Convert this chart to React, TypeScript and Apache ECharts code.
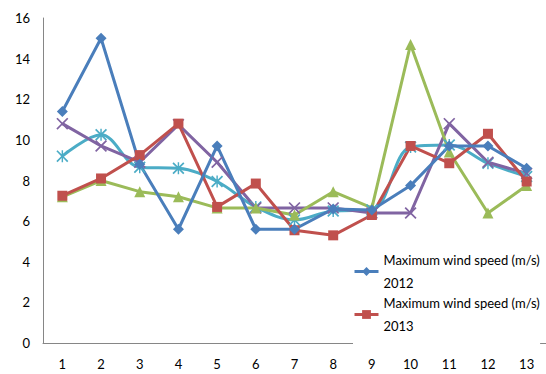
import React, { useEffect, useRef } from "react";
import * as echarts from "echarts";

// Month index along the x axis
const categories = ["1", "2", "3", "4", "5", "6", "7", "8", "9", "10", "11", "12", "13"];

const speed2012 = [11.4, 15.0, 8.8, 5.6, 9.7, 5.6, 5.6, 6.6, 6.55, 7.75, 9.7, 9.7, 8.6];
const speed2013 = [7.25, 8.1, 9.25, 10.8, 6.7, 7.85, 5.55, 5.3, 6.3, 9.7, 8.85, 10.3, 7.95];
const seriesGreen = [7.2, 8.0, 7.45, 7.2, 6.65, 6.65, 6.3, 7.45, 6.65, 14.7, 9.4, 6.4, 7.75];
const seriesPurple = [10.8, 9.7, 8.9, 10.75, 8.9, 6.65, 6.65, 6.65, 6.4, 6.4, 10.8, 8.9, 8.35];
const seriesCyan = [9.2, 10.25, 8.65, 8.6, 7.95, 6.7, 6.06, 6.5, 6.55, 9.65, 9.75, 8.85, 8.2];

const yTicks = { min: 0, max: 16, interval: 2 };

const name2012 = "Maximum wind speed (m/s)\n2012";
const name2013 = "Maximum wind speed (m/s)\n2013";

// Filled outlines for the cross and asterisk markers
const crossPath =
  "path://M0,1 L1,0 L5,4 L9,0 L10,1 L6,5 L10,9 L9,10 L5,6 L1,10 L0,9 L4,5 Z";
const starPath =
  "path://M0,1 L1,0 L5,4 L9,0 L10,1 L6,5 L10,9 L9,10 L5,6 L1,10 L0,9 L4,5 Z M4.4,0 L5.6,0 L5.6,10 L4.4,10 Z";

const FONT = "Lato, 'Open Sans', sans-serif";

export default function App() {
  const ref = useRef<HTMLDivElement>(null);

  useEffect(() => {
    if (!ref.current) return;
    const chart = echarts.init(ref.current, undefined, { renderer: "svg" });

    const lineSeries = (
      name: string,
      data: number[],
      color: string,
      symbol: string,
      symbolSize: number,
      extra: Record<string, unknown> = {}
    ) => ({
      name,
      type: "line",
      data,
      symbol,
      symbolSize,
      showAllSymbol: true,
      lineStyle: { color, width: 3 },
      itemStyle: { color },
      emphasis: { disabled: true },
      z: 2,
      ...extra,
    });

    const legendText = {
      fontFamily: FONT,
      fontSize: 13,
      color: "#000",
      lineHeight: 23,
      padding: [23, 0, 0, 0],
    };

    const legendBase = {
      left: 353,
      itemWidth: 24,
      itemHeight: 11,
      itemGap: 0,
      padding: 0,
      backgroundColor: "#fff",
      textStyle: legendText,
      lineStyle: { width: 3 },
      selectedMode: false,
    };

    chart.setOption({
      animation: false,
      backgroundColor: "#fff",
      grid: { left: 43, right: 0, top: 18, bottom: 31, containLabel: false },
      xAxis: {
        type: "category",
        data: categories,
        boundaryGap: true,
        axisLine: { lineStyle: { color: "#868686", width: 1 } },
        axisTick: { show: false },
        axisLabel: { color: "#000", fontFamily: FONT, fontSize: 13, margin: 14 },
        splitLine: { show: false },
      },
      yAxis: {
        type: "value",
        min: yTicks.min,
        max: yTicks.max,
        interval: yTicks.interval,
        axisLine: { show: true, lineStyle: { color: "#868686", width: 1 } },
        axisTick: { show: false },
        axisLabel: { color: "#000", fontFamily: FONT, fontSize: 13, margin: 13 },
        splitLine: { show: false },
      },
      legend: [
        { ...legendBase, data: [name2012], top: 237 },
        { ...legendBase, data: [name2013], top: 280 },
      ],
      series: [
        lineSeries("Maximum wind speed (m/s) 2016", seriesCyan, "#4BACC6", starPath, 12, {
          smooth: 0.35,
        }),
        lineSeries("Maximum wind speed (m/s) 2015", seriesPurple, "#8064A2", crossPath, 12),
        lineSeries("Maximum wind speed (m/s) 2014", seriesGreen, "#9BBB59", "triangle", 11),
        lineSeries(name2013, speed2013, "#C0504D", "rect", 10),
        lineSeries(name2012, speed2012, "#4A7EBB", "diamond", 11),
      ],
    });

    return () => chart.dispose();
  }, []);

  return <div ref={ref} style={{ width: 546, height: 374, position: "absolute", left: 0, top: 0 }} />;
}
